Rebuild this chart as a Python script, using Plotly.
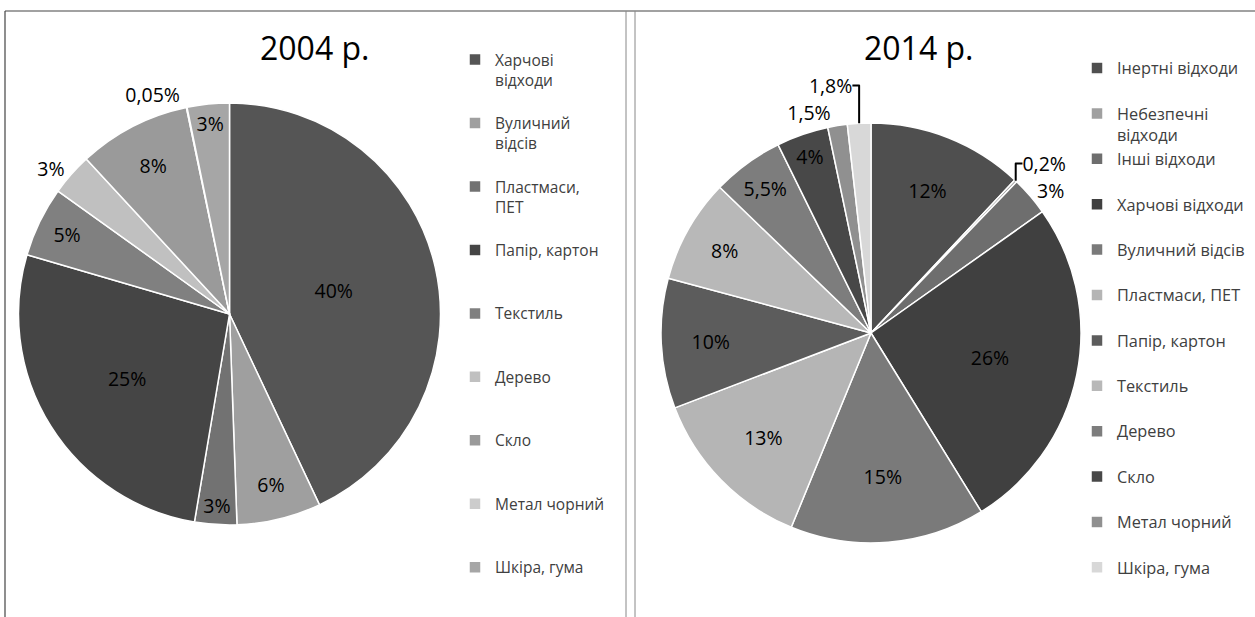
import plotly.graph_objects as go

W, H = 1255, 617

# ---- data ----
labels_2004 = ["Харчові<br>відходи", "Вуличний<br>відсів", "Пластмаси,<br>ПЕТ", "Папір, картон",
               "Текстиль", "Дерево", "Скло", "Метал чорний", "Шкіра, гума"]
values_2004 = [40, 6, 3, 25, 5, 3, 8, 0.05, 3]

labels_2014 = ["Інертні відходи", "Небезпечні<br>відходи", "Інші відходи", "Харчові відходи",
               "Вуличний відсів", "Пластмаси, ПЕТ", "Папір, картон", "Текстиль", "Дерево",
               "Скло", "Метал чорний", "Шкіра, гума"]
values_2014 = [12, 0.2, 3, 26, 15, 13, 10, 8, 5.5, 4, 1.5, 1.8]

titles = ["2004 р.", "2014 р."]

# ---- styles ----
colors_2004 = ["#555555", "#9f9f9f", "#727272", "#454545", "#808080",
               "#c0c0c0", "#9a9a9a", "#cccccc", "#a6a6a6"]
colors_2014 = ["#4f4f4f", "#a0a0a0", "#6e6e6e", "#404040", "#7a7a7a", "#b5b5b5",
               "#5c5c5c", "#b8b8b8", "#7d7d7d", "#484848", "#909090", "#d8d8d8"]
pos_2004 = ["inside", "inside", "inside", "inside", "inside", "outside", "inside", "outside", "inside"]
pos_2014 = ["inside", "outside", "outside", "inside", "inside", "inside", "inside", "inside",
            "inside", "inside", "outside", "outside"]

FONT = "Open Sans"


def fmt(v):
    return ("%g" % v).replace(".", ",") + "%"


def pad(labels, nlines, pad_last):
    # blank lines give the legend its even spacing; labels must stay unique across both pies
    out = []
    for i, lab in enumerate(labels):
        n = lab.count("<br>") + 1
        if i < len(labels) - 1 or pad_last:
            lab = lab + "<br>\u00a0" * (nlines - n)
        out.append(lab)
    return out


def px_dom(x0, x1, y0, y1):
    return dict(x=[x0 / W, x1 / W], y=[1 - y1 / H, 1 - y0 / H])


fig = go.Figure()

fig.add_trace(go.Pie(
    labels=pad(labels_2004, 3, False), values=values_2004, text=[fmt(v) for v in values_2004],
    textinfo="text", textposition=pos_2004, sort=False, direction="clockwise", rotation=0,
    marker=dict(colors=colors_2004, line=dict(color="white", width=1.5)),
    textfont=dict(family=FONT, size=19.5, color="#000000"),
    insidetextorientation="horizontal",
    domain=px_dom(17, 442, 103, 525), legend="legend", hoverinfo="label+percent",
))

fig.add_trace(go.Pie(
    labels=pad(labels_2014, 2, True), values=values_2014, text=[fmt(v) for v in values_2014],
    textinfo="text", textposition=pos_2014, sort=False, direction="clockwise", rotation=0,
    marker=dict(colors=colors_2014, line=dict(color="white", width=1.5)),
    textfont=dict(family=FONT, size=19.5, color="#000000"),
    insidetextorientation="horizontal",
    domain=px_dom(661, 1081, 123, 543), legend="legend2", hoverinfo="label+percent",
))

legend_common = dict(valign="top", bgcolor="rgba(0,0,0,0)", xanchor="left", yanchor="top",
                     itemclick=False, itemdoubleclick=False, maxheight=1000)
fig.update_layout(
    width=W, height=H, margin=dict(l=0, r=0, t=0, b=0),
    paper_bgcolor="white", plot_bgcolor="white",
    legend=dict(x=455 / W, y=1 - 43 / H, font=dict(family=FONT, size=15.5, color="#404040"),
                **legend_common),
    legend2=dict(x=1077 / W, y=1 - 51 / H, font=dict(family=FONT, size=16.3, color="#404040"),
                 **legend_common),
    annotations=[
        dict(text=titles[0], x=314 / W, y=1 - 48 / H, xref="paper", yref="paper",
             xanchor="center", yanchor="middle",
             showarrow=False, font=dict(family=FONT, size=32, color="#000000")),
        dict(text=titles[1], x=918 / W, y=1 - 48 / H, xref="paper", yref="paper",
             xanchor="center", yanchor="middle",
             showarrow=False, font=dict(family=FONT, size=32, color="#000000")),
    ],
    shapes=[
        dict(type="line", xref="paper", yref="paper", x0=5 / W, x1=1, y0=1 - 11 / H, y1=1 - 11 / H,
             line=dict(color="#444444", width=1.2)),
        dict(type="line", xref="paper", yref="paper", x0=5 / W, x1=5 / W, y0=0, y1=1 - 11 / H,
             line=dict(color="#444444", width=1.2)),
        dict(type="line", xref="paper", yref="paper", x0=626 / W, x1=626 / W, y0=0, y1=1 - 11 / H,
             line=dict(color="#888888", width=1)),
        dict(type="line", xref="paper", yref="paper", x0=635 / W, x1=635 / W, y0=0, y1=1 - 11 / H,
             line=dict(color="#888888", width=1)),
    ],
)

fig.write_html("out.html", config={"displayModeBar": False},
               post_script="document.body.style.margin='0';")
